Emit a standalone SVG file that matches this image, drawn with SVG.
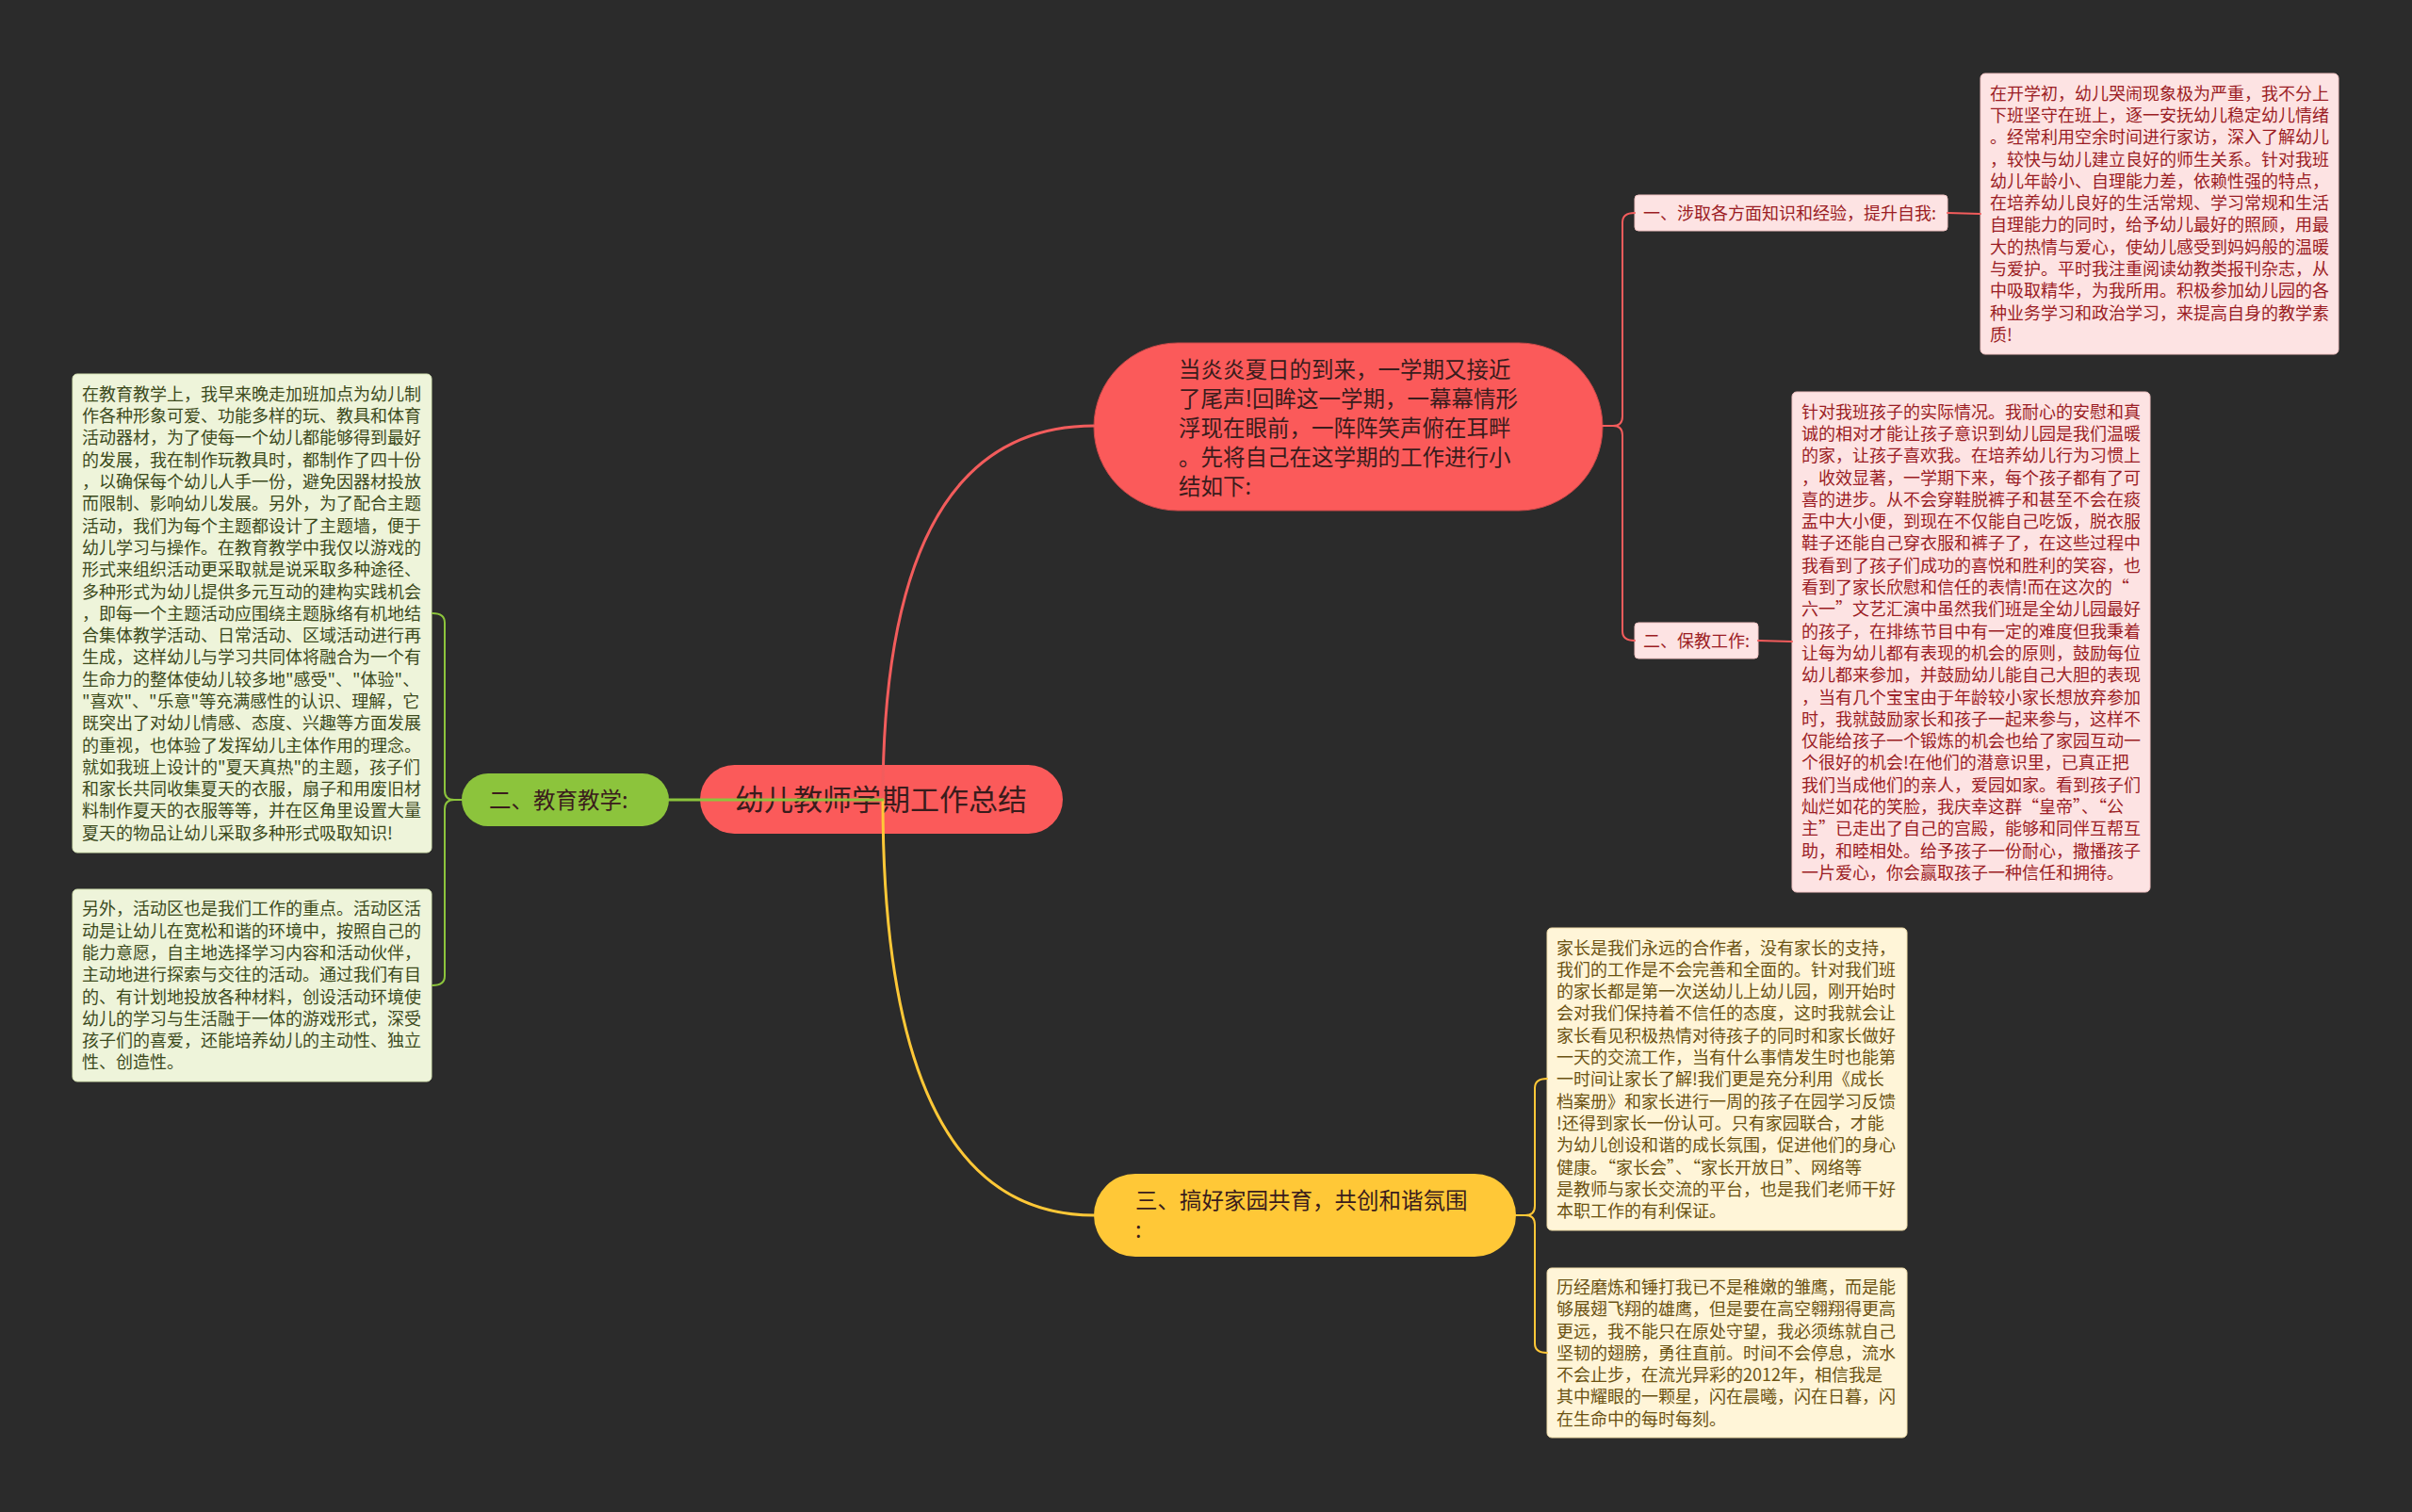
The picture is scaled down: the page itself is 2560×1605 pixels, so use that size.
<svg xmlns="http://www.w3.org/2000/svg" width="2560" height="1605" viewBox="0 0 2560 1605">
<style>
text{font-family:"Noto Sans CJK SC","Noto Sans",sans-serif;}
.big{font-size:23.5px;fill:#3a1c1c;}
.title{font-size:31px;fill:#3a1c1c;}
.body{font-size:18px;}
.pink{fill:#fde3e3;stroke:#f0c2c2;stroke-width:1;}
.pinkT{fill:#9b1d24;}
.grn{fill:#eef4da;stroke:#d6e4b4;stroke-width:1;}
.grnT{fill:#3c4a1c;}
.crm{fill:#fff5d8;stroke:#efdca8;stroke-width:1;}
.crmT{fill:#6b5212;}
.c{fill:none;stroke-linecap:round;stroke-linejoin:round;}
</style>
<rect x="0" y="0" width="2560" height="1605" fill="#2b2b2b"/>

<g id="root">
<rect x="743" y="812" width="385" height="73" rx="36.5" fill="#fb5a5a"/>
<text class="title" x="935" y="860" text-anchor="middle">幼儿教师学期工作总结</text>
</g>

<g id="n-intro">
<rect x="1161" y="364" width="540" height="178" rx="89" fill="#fb5a5a" stroke="#c84848" stroke-width="1"/>
<text class="big" x="1251" y="401">
<tspan x="1251" dy="0">当炎炎夏日的到来，一学期又接近</tspan>
<tspan x="1251" dy="31">了尾声!回眸这一学期，一幕幕情形</tspan>
<tspan x="1251" dy="31">浮现在眼前，一阵阵笑声俯在耳畔</tspan>
<tspan x="1251" dy="31">。先将自己在这学期的工作进行小</tspan>
<tspan x="1251" dy="31">结如下:</tspan>
</text>
</g>

<g id="n-label1">
<rect class="pink" x="1735" y="207" width="332" height="38" rx="4"/>
<text class="body pinkT" x="1744" y="233">一、涉取各方面知识和经验，提升自我:</text>
</g>

<g id="n-label2">
<rect class="pink" x="1735" y="661" width="131" height="38" rx="4"/>
<text class="body pinkT" x="1744" y="687">二、保教工作:</text>
</g>

<g id="n-box1">
<rect class="pink" x="2102" y="78" width="380" height="298" rx="5"/>
<text class="body pinkT" x="2112" y="105.6">
<tspan x="2112" dy="0">在开学初，幼儿哭闹现象极为严重，我不分上</tspan>
<tspan x="2112" dy="23.3">下班坚守在班上，逐一安抚幼儿稳定幼儿情绪</tspan>
<tspan x="2112" dy="23.3">。经常利用空余时间进行家访，深入了解幼儿</tspan>
<tspan x="2112" dy="23.3">，较快与幼儿建立良好的师生关系。针对我班</tspan>
<tspan x="2112" dy="23.3">幼儿年龄小、自理能力差，依赖性强的特点，</tspan>
<tspan x="2112" dy="23.3">在培养幼儿良好的生活常规、学习常规和生活</tspan>
<tspan x="2112" dy="23.3">自理能力的同时，给予幼儿最好的照顾，用最</tspan>
<tspan x="2112" dy="23.3">大的热情与爱心，使幼儿感受到妈妈般的温暖</tspan>
<tspan x="2112" dy="23.3">与爱护。平时我注重阅读幼教类报刊杂志，从</tspan>
<tspan x="2112" dy="23.3">中吸取精华，为我所用。积极参加幼儿园的各</tspan>
<tspan x="2112" dy="23.3">种业务学习和政治学习，来提高自身的教学素</tspan>
<tspan x="2112" dy="23.3">质!</tspan>
</text>
</g>

<g id="n-box2">
<rect class="pink" x="1902" y="416" width="380" height="531" rx="5"/>
<text class="body pinkT" x="1912" y="443.6">
<tspan x="1912" dy="0">针对我班孩子的实际情况。我耐心的安慰和真</tspan>
<tspan x="1912" dy="23.3">诚的相对才能让孩子意识到幼儿园是我们温暖</tspan>
<tspan x="1912" dy="23.3">的家，让孩子喜欢我。在培养幼儿行为习惯上</tspan>
<tspan x="1912" dy="23.3">，收效显著，一学期下来，每个孩子都有了可</tspan>
<tspan x="1912" dy="23.3">喜的进步。从不会穿鞋脱裤子和甚至不会在痰</tspan>
<tspan x="1912" dy="23.3">盂中大小便，到现在不仅能自己吃饭，脱衣服</tspan>
<tspan x="1912" dy="23.3">鞋子还能自己穿衣服和裤子了，在这些过程中</tspan>
<tspan x="1912" dy="23.3">我看到了孩子们成功的喜悦和胜利的笑容，也</tspan>
<tspan x="1912" dy="23.3">看到了家长欣慰和信任的表情!而在这次的“</tspan>
<tspan x="1912" dy="23.3">六一”文艺汇演中虽然我们班是全幼儿园最好</tspan>
<tspan x="1912" dy="23.3">的孩子，在排练节目中有一定的难度但我秉着</tspan>
<tspan x="1912" dy="23.3">让每为幼儿都有表现的机会的原则，鼓励每位</tspan>
<tspan x="1912" dy="23.3">幼儿都来参加，并鼓励幼儿能自己大胆的表现</tspan>
<tspan x="1912" dy="23.3">，当有几个宝宝由于年龄较小家长想放弃参加</tspan>
<tspan x="1912" dy="23.3">时，我就鼓励家长和孩子一起来参与，这样不</tspan>
<tspan x="1912" dy="23.3">仅能给孩子一个锻炼的机会也给了家园互动一</tspan>
<tspan x="1912" dy="23.3">个很好的机会!在他们的潜意识里，已真正把</tspan>
<tspan x="1912" dy="23.3">我们当成他们的亲人，爱园如家。看到孩子们</tspan>
<tspan x="1912" dy="23.3">灿烂如花的笑脸，我庆幸这群“皇帝”、“公</tspan>
<tspan x="1912" dy="23.3">主”已走出了自己的宫殿，能够和同伴互帮互</tspan>
<tspan x="1912" dy="23.3">助，和睦相处。给予孩子一份耐心，撒播孩子</tspan>
<tspan x="1912" dy="23.3">一片爱心，你会赢取孩子一种信任和拥待。</tspan>
</text>
</g>

<g id="n-edu">
<rect x="490" y="821" width="220" height="56" rx="28" fill="#8cc43c"/>
<text class="big" x="519" y="858">二、教育教学:</text>
</g>

<g id="n-edu1">
<rect class="grn" x="77" y="397" width="381" height="508" rx="5"/>
<text class="body grnT" x="87" y="424.8">
<tspan x="87" dy="0">在教育教学上，我早来晚走加班加点为幼儿制</tspan>
<tspan x="87" dy="23.3">作各种形象可爱、功能多样的玩、教具和体育</tspan>
<tspan x="87" dy="23.3">活动器材，为了使每一个幼儿都能够得到最好</tspan>
<tspan x="87" dy="23.3">的发展，我在制作玩教具时，都制作了四十份</tspan>
<tspan x="87" dy="23.3">，以确保每个幼儿人手一份，避免因器材投放</tspan>
<tspan x="87" dy="23.3">而限制、影响幼儿发展。另外，为了配合主题</tspan>
<tspan x="87" dy="23.3">活动，我们为每个主题都设计了主题墙，便于</tspan>
<tspan x="87" dy="23.3">幼儿学习与操作。在教育教学中我仅以游戏的</tspan>
<tspan x="87" dy="23.3">形式来组织活动更采取就是说采取多种途径、</tspan>
<tspan x="87" dy="23.3">多种形式为幼儿提供多元互动的建构实践机会</tspan>
<tspan x="87" dy="23.3">，即每一个主题活动应围绕主题脉络有机地结</tspan>
<tspan x="87" dy="23.3">合集体教学活动、日常活动、区域活动进行再</tspan>
<tspan x="87" dy="23.3">生成，这样幼儿与学习共同体将融合为一个有</tspan>
<tspan x="87" dy="23.3">生命力的整体使幼儿较多地"感受"、"体验"、</tspan>
<tspan x="87" dy="23.3">"喜欢"、"乐意"等充满感性的认识、理解，它</tspan>
<tspan x="87" dy="23.3">既突出了对幼儿情感、态度、兴趣等方面发展</tspan>
<tspan x="87" dy="23.3">的重视，也体验了发挥幼儿主体作用的理念。</tspan>
<tspan x="87" dy="23.3">就如我班上设计的"夏天真热"的主题，孩子们</tspan>
<tspan x="87" dy="23.3">和家长共同收集夏天的衣服，扇子和用废旧材</tspan>
<tspan x="87" dy="23.3">料制作夏天的衣服等等，并在区角里设置大量</tspan>
<tspan x="87" dy="23.3">夏天的物品让幼儿采取多种形式吸取知识!</tspan>
</text>
</g>

<g id="n-edu2">
<rect class="grn" x="77" y="944" width="381" height="204" rx="5"/>
<text class="body grnT" x="87" y="971.3">
<tspan x="87" dy="0">另外，活动区也是我们工作的重点。活动区活</tspan>
<tspan x="87" dy="23.3">动是让幼儿在宽松和谐的环境中，按照自己的</tspan>
<tspan x="87" dy="23.3">能力意愿，自主地选择学习内容和活动伙伴，</tspan>
<tspan x="87" dy="23.3">主动地进行探索与交往的活动。通过我们有目</tspan>
<tspan x="87" dy="23.3">的、有计划地投放各种材料，创设活动环境使</tspan>
<tspan x="87" dy="23.3">幼儿的学习与生活融于一体的游戏形式，深受</tspan>
<tspan x="87" dy="23.3">孩子们的喜爱，还能培养幼儿的主动性、独立</tspan>
<tspan x="87" dy="23.3">性、创造性。</tspan>
</text>
</g>

<g id="n-home">
<rect x="1161" y="1246" width="448" height="88" rx="44" fill="#ffc837"/>
<text class="big" x="1205" y="1283">
<tspan x="1205" dy="0">三、搞好家园共育，共创和谐氛围</tspan>
<tspan x="1205" dy="31">:</tspan>
</text>
</g>

<g id="n-home1">
<rect class="crm" x="1642" y="985" width="382" height="321" rx="5"/>
<text class="body crmT" x="1652" y="1012.5">
<tspan x="1652" dy="0">家长是我们永远的合作者，没有家长的支持，</tspan>
<tspan x="1652" dy="23.3">我们的工作是不会完善和全面的。针对我们班</tspan>
<tspan x="1652" dy="23.3">的家长都是第一次送幼儿上幼儿园，刚开始时</tspan>
<tspan x="1652" dy="23.3">会对我们保持着不信任的态度，这时我就会让</tspan>
<tspan x="1652" dy="23.3">家长看见积极热情对待孩子的同时和家长做好</tspan>
<tspan x="1652" dy="23.3">一天的交流工作，当有什么事情发生时也能第</tspan>
<tspan x="1652" dy="23.3">一时间让家长了解!我们更是充分利用《成长</tspan>
<tspan x="1652" dy="23.3">档案册》和家长进行一周的孩子在园学习反馈</tspan>
<tspan x="1652" dy="23.3">!还得到家长一份认可。只有家园联合，才能</tspan>
<tspan x="1652" dy="23.3">为幼儿创设和谐的成长氛围，促进他们的身心</tspan>
<tspan x="1652" dy="23.3">健康。“家长会”、“家长开放日”、网络等</tspan>
<tspan x="1652" dy="23.3">是教师与家长交流的平台，也是我们老师干好</tspan>
<tspan x="1652" dy="23.3">本职工作的有利保证。</tspan>
</text>
</g>

<g id="n-home2">
<rect class="crm" x="1642" y="1346" width="382" height="180" rx="5"/>
<text class="body crmT" x="1652" y="1372.9">
<tspan x="1652" dy="0">历经磨炼和锤打我已不是稚嫩的雏鹰，而是能</tspan>
<tspan x="1652" dy="23.3">够展翅飞翔的雄鹰，但是要在高空翱翔得更高</tspan>
<tspan x="1652" dy="23.3">更远，我不能只在原处守望，我必须练就自己</tspan>
<tspan x="1652" dy="23.3">坚韧的翅膀，勇往直前。时间不会停息，流水</tspan>
<tspan x="1652" dy="23.3">不会止步，在流光异彩的2012年，相信我是</tspan>
<tspan x="1652" dy="23.3">其中耀眼的一颗星，闪在晨曦，闪在日暮，闪</tspan>
<tspan x="1652" dy="23.3">在生命中的每时每刻。</tspan>
</text>
</g>

<g id="connectors">
<path class="c" stroke="#f25c5c" stroke-width="3" d="M937 849 Q937 452 1161 452"/>
<path class="c" stroke="#ffc837" stroke-width="3" d="M937 849 Q937 1290 1161 1290"/>
<path class="c" stroke="#8cc43c" stroke-width="3" d="M937 849 L710 849"/>
<path class="c" stroke="#f25c5c" stroke-width="2" d="M1701 452 L1712 452 Q1722 452 1722 442 L1722 236 Q1722 226 1735 226"/>
<path class="c" stroke="#f25c5c" stroke-width="2" d="M1701 452 L1712 452 Q1722 452 1722 462 L1722 670 Q1722 680 1735 680"/>
<path class="c" stroke="#f25c5c" stroke-width="2" d="M2067 226 L2102 227"/>
<path class="c" stroke="#f25c5c" stroke-width="2" d="M1866 680 L1902 681"/>
<path class="c" stroke="#8cc43c" stroke-width="2" d="M490 849 L482 849 Q472 849 472 839 L472 661 Q472 651 459 651"/>
<path class="c" stroke="#8cc43c" stroke-width="2" d="M490 849 L482 849 Q472 849 472 859 L472 1036 Q472 1046 459 1046"/>
<path class="c" stroke="#ffc837" stroke-width="2" d="M1609 1290 L1619 1290 Q1629 1290 1629 1280 L1629 1155 Q1629 1145 1642 1145"/>
<path class="c" stroke="#ffc837" stroke-width="2" d="M1609 1290 L1619 1290 Q1629 1290 1629 1300 L1629 1426 Q1629 1436 1642 1436"/>
</g>
</svg>
